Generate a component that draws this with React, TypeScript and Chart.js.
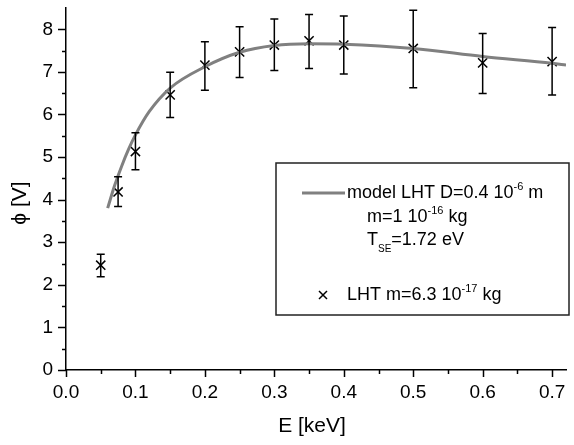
import React, { useEffect, useRef } from "react";
import { Chart, registerables } from "chart.js";

Chart.register(...registerables);

// Measured data (LHT m=6.3 10^-17 kg)
const energyKeV = [0.05, 0.075, 0.1, 0.15, 0.2, 0.25, 0.3, 0.35, 0.4, 0.5, 0.6, 0.7];
const phiV = [2.46, 4.18, 5.13, 6.46, 7.16, 7.47, 7.63, 7.73, 7.63, 7.55, 7.21, 7.24];
const phiHigh = [2.72, 4.54, 5.57, 6.99, 7.71, 8.06, 8.24, 8.35, 8.31, 8.45, 7.9, 8.04];
const phiLow = [2.19, 3.84, 4.7, 5.93, 6.57, 6.87, 7.03, 7.08, 6.95, 6.63, 6.49, 6.46];

// Model curve (LHT D=0.4 10^-6 m)
const modelE = [0.06, 0.07, 0.08, 0.09, 0.1, 0.12, 0.15, 0.2, 0.25, 0.3, 0.35, 0.4, 0.5, 0.6, 0.7, 0.72];
const modelPhi = [3.8, 4.33, 4.78, 5.18, 5.52, 6.07, 6.62, 7.12, 7.46, 7.62, 7.66, 7.65, 7.55, 7.36, 7.2, 7.16];

const xTickLabels = ["0.0", "0.1", "0.2", "0.3", "0.4", "0.5", "0.6", "0.7"];
const yTickLabels = ["0", "1", "2", "3", "4", "5", "6", "7", "8"];

const FONT = "'Liberation Sans', Arial, sans-serif";

type Part = { t: string; sup?: boolean; sub?: boolean };

function drawRich(ctx: CanvasRenderingContext2D, parts: Part[], x: number, y: number, size: number) {
  let cx = x;
  ctx.textBaseline = "middle";
  ctx.textAlign = "left";
  for (const p of parts) {
    if (p.sup) {
      ctx.font = `${Math.round(size * 0.6)}px ${FONT}`;
      ctx.fillText(p.t, cx, y - size * 0.33);
    } else if (p.sub) {
      ctx.font = `${Math.round(size * 0.55)}px ${FONT}`;
      ctx.fillText(p.t, cx, y + size * 0.5);
    } else {
      ctx.font = `${size}px ${FONT}`;
      ctx.fillText(p.t, cx, y);
    }
    cx += ctx.measureText(p.t).width;
  }
}

const customPlugin = {
  id: "custom",
  afterDatasetsDraw(chart: any) {
    const ctx: CanvasRenderingContext2D = chart.ctx;
    const xs = chart.scales.x;
    const ys = chart.scales.y;
    const area = chart.chartArea;
    ctx.save();
    // error bars
    ctx.strokeStyle = "#000";
    ctx.lineWidth = 1.5;
    for (let i = 0; i < energyKeV.length; i++) {
      const px = xs.getPixelForValue(energyKeV[i]);
      const pt = ys.getPixelForValue(phiHigh[i]);
      const pb = ys.getPixelForValue(phiLow[i]);
      ctx.beginPath();
      ctx.moveTo(px, pt);
      ctx.lineTo(px, pb);
      ctx.moveTo(px - 4, pt);
      ctx.lineTo(px + 4, pt);
      ctx.moveTo(px - 4, pb);
      ctx.lineTo(px + 4, pb);
      ctx.stroke();
    }
    // axis ticks
    ctx.lineWidth = 1.5;
    for (let k = 0; k <= 14; k++) {
      const v = k * 0.05;
      const px = Math.round(xs.getPixelForValue(v)) + 0.5;
      const len = k % 2 === 0 ? 7 : 4;
      ctx.beginPath();
      ctx.moveTo(px, area.bottom);
      ctx.lineTo(px, area.bottom + len);
      ctx.stroke();
    }
    for (let k = 0; k <= 16; k++) {
      const v = k * 0.5;
      const py = Math.round(ys.getPixelForValue(v)) + 0.5;
      const len = k % 2 === 0 ? 8 : 4;
      ctx.beginPath();
      ctx.moveTo(area.left, py);
      ctx.lineTo(area.left - len, py);
      ctx.stroke();
    }
    // axis titles
    ctx.fillStyle = "#000";
    ctx.font = `21px ${FONT}`;
    ctx.textAlign = "center";
    ctx.textBaseline = "middle";
    ctx.fillText("E [keV]", 312, 426);
    ctx.save();
    ctx.translate(20, 203);
    ctx.rotate(-Math.PI / 2);
    ctx.fillText("\u03D5 [V]", 0, 0);
    ctx.restore();

    // legend box
    const bx = 276, by = 163, bw = 293, bh = 152;
    ctx.fillStyle = "#fff";
    ctx.fillRect(bx, by, bw, bh);
    ctx.strokeStyle = "#222";
    ctx.lineWidth = 1.5;
    ctx.strokeRect(bx, by, bw, bh);
    ctx.strokeStyle = "#808080";
    ctx.lineWidth = 3;
    ctx.beginPath();
    ctx.moveTo(302, 193);
    ctx.lineTo(345, 193);
    ctx.stroke();
    ctx.fillStyle = "#000";
    const fs = 18;
    drawRich(ctx, [{ t: "model LHT D=0.4 10" }, { t: "-6", sup: true }, { t: " m" }], 347, 193, fs);
    drawRich(ctx, [{ t: "m=1 10" }, { t: "-16", sup: true }, { t: " kg" }], 367, 217, fs);
    drawRich(ctx, [{ t: "T" }, { t: "SE", sub: true }, { t: "=1.72 eV" }], 367, 240, fs);
    // marker
    ctx.strokeStyle = "#000";
    ctx.lineWidth = 1.5;
    ctx.beginPath();
    ctx.moveTo(319, 291);
    ctx.lineTo(327, 299);
    ctx.moveTo(327, 291);
    ctx.lineTo(319, 299);
    ctx.stroke();
    drawRich(ctx, [{ t: "LHT m=6.3 10" }, { t: "-17", sup: true }, { t: " kg" }], 347, 295, fs);
    ctx.restore();
  },
};

export default function App() {
  const ref = useRef<HTMLCanvasElement | null>(null);
  useEffect(() => {
    document.body.style.margin = "0";
    if (!ref.current) return;
    const chart = new Chart(ref.current, {
      type: "scatter",
      data: {
        datasets: [
          {
            type: "line",
            label: "model",
            data: modelE.map((e, i) => ({ x: e, y: modelPhi[i] })),
            borderColor: "#808080",
            borderWidth: 3,
            pointRadius: 0,
            cubicInterpolationMode: "monotone",
            fill: false,
          } as any,
          {
            label: "LHT",
            data: energyKeV.map((e, i) => ({ x: e, y: phiV[i] })),
            pointStyle: "crossRot",
            pointRadius: 6.5,
            borderColor: "#000",
            backgroundColor: "#000",
            pointBorderWidth: 1.5,
            showLine: false,
          } as any,
        ],
      },
      options: {
        animation: false,
        responsive: false,
        layout: { padding: { left: 0, top: 7, right: 1, bottom: 0 } },
        plugins: { legend: { display: false }, tooltip: { enabled: false } },
        scales: {
          x: {
            type: "linear",
            min: 0,
            max: 0.72,
            afterFit: (s: any) => {
              s.height = 75;
              s.paddingLeft = 0;
              s.paddingRight = 0;
            },
            grid: { display: false, drawTicks: false },
            border: { display: true, color: "#000", width: 1.5 },
            ticks: {
              stepSize: 0.1,
              includeBounds: false,
              padding: 11,
              color: "#000",
              font: { family: FONT, size: 19 },
              maxRotation: 0,
              callback: (v: any) => {
                const i = Math.round(Number(v) * 10);
                return xTickLabels[i] ?? "";
              },
            },
          },
          y: {
            type: "linear",
            min: 0,
            max: 8.5,
            afterFit: (s: any) => {
              s.width = 66;
              s.paddingTop = 0;
              s.paddingBottom = 0;
            },
            grid: { display: false, drawTicks: false },
            border: { display: true, color: "#000", width: 1.5 },
            ticks: {
              stepSize: 1,
              includeBounds: false,
              padding: 13,
              color: "#000",
              font: { family: FONT, size: 19 },
              callback: (v: any) => yTickLabels[Math.round(Number(v))] ?? "",
            },
          },
        },
      },
      plugins: [customPlugin],
    });
    return () => chart.destroy();
  }, []);
  return (
    <div style={{ width: 574, height: 445, background: "#fff" }}>
      <canvas ref={ref} width={574} height={445} />
    </div>
  );
}
